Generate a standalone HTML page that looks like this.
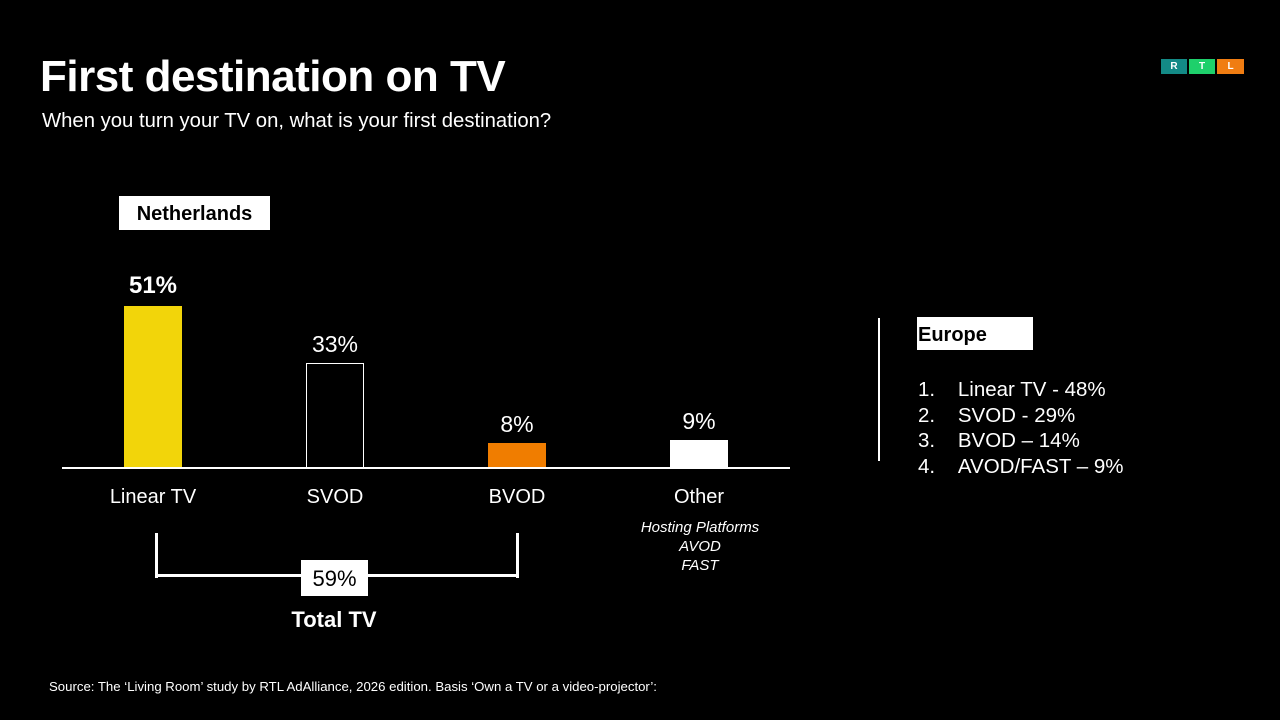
<!DOCTYPE html>
<html><head><meta charset="utf-8"><style>
body{margin:0;width:1280px;height:720px;background:#000;overflow:hidden;position:relative;font-family:"Liberation Sans",sans-serif;color:#fff}
.a{position:absolute;white-space:nowrap}
.c{text-align:center}
</style></head><body>
<div class="a" style="left:40px;top:52px;font-size:44px;font-weight:bold;letter-spacing:-0.5px">First destination on TV</div>
<div class="a" style="left:42px;top:110px;font-size:20.3px">When you turn your TV on, what is your first destination?</div>
<div class="a" style="left:1161px;top:59px;width:26px;height:15px;background:#138a86;color:#fff;font-size:10px;font-weight:bold;text-align:center;line-height:15px">R</div>
<div class="a" style="left:1189px;top:59px;width:26px;height:15px;background:#1ed06b;color:#fff;font-size:10px;font-weight:bold;text-align:center;line-height:15px">T</div>
<div class="a" style="left:1217px;top:59px;width:27px;height:15px;background:#f07d12;color:#fff;font-size:10px;font-weight:bold;text-align:center;line-height:15px">L</div>

<div class="a" style="left:119px;top:196px;width:151px;height:34px;background:#fff;color:#000;font-size:20px;font-weight:bold;text-align:center;line-height:36px">Netherlands</div>

<div class="a" style="left:124px;top:306px;width:58px;height:162px;background:#f2d50a"></div>
<div class="a" style="left:306px;top:363px;width:58px;height:105px;border:1px solid #fff;box-sizing:border-box"></div>
<div class="a" style="left:488px;top:443px;width:58px;height:25px;background:#f07d00"></div>
<div class="a" style="left:670px;top:440px;width:58px;height:28px;background:#fff"></div>
<div class="a" style="left:62px;top:467px;width:728px;height:2px;background:#fff"></div>

<div class="a c" style="left:103px;width:100px;top:272px;font-size:24px;font-weight:bold">51%</div>
<div class="a c" style="left:285px;width:100px;top:331px;font-size:23px">33%</div>
<div class="a c" style="left:467px;width:100px;top:411px;font-size:23px">8%</div>
<div class="a c" style="left:649px;width:100px;top:408px;font-size:23px">9%</div>

<div class="a c" style="left:93px;width:120px;top:486px;font-size:20px">Linear TV</div>
<div class="a c" style="left:275px;width:120px;top:486px;font-size:20px">SVOD</div>
<div class="a c" style="left:457px;width:120px;top:486px;font-size:20px">BVOD</div>
<div class="a c" style="left:639px;width:120px;top:486px;font-size:20px">Other</div>
<div class="a c" style="left:600px;width:200px;top:518px;font-size:15px;font-style:italic;line-height:19px">Hosting Platforms<br>AVOD<br>FAST</div>

<div class="a" style="left:155px;top:533px;width:3px;height:45px;background:#fff"></div>
<div class="a" style="left:516px;top:533px;width:3px;height:45px;background:#fff"></div>
<div class="a" style="left:155px;top:574px;width:364px;height:3px;background:#fff"></div>
<div class="a" style="left:301px;top:560px;width:67px;height:36px;background:#fff;color:#000;font-size:22px;text-align:center;line-height:38px">59%</div>
<div class="a c" style="left:274px;width:120px;top:607px;font-size:22px;font-weight:bold">Total TV</div>

<div class="a" style="left:878px;top:318px;width:2px;height:143px;background:#fff"></div>
<div class="a" style="left:917px;top:317px;width:116px;height:33px;background:#fff;color:#000;font-size:20px;font-weight:bold;line-height:36px;padding-left:1px;box-sizing:border-box">Europe</div>
<div class="a" style="left:918px;top:377px;font-size:20.5px;line-height:25.5px">1.&nbsp;&nbsp;&nbsp;&nbsp;Linear TV - 48%<br>2.&nbsp;&nbsp;&nbsp;&nbsp;SVOD - 29%<br>3.&nbsp;&nbsp;&nbsp;&nbsp;BVOD – 14%<br>4.&nbsp;&nbsp;&nbsp;&nbsp;AVOD/FAST – 9%</div>

<div class="a" style="left:49px;top:679px;font-size:13.2px">Source: The ‘Living Room’ study by RTL AdAlliance, 2026 edition. Basis ‘Own a TV or a video-projector’:</div>
</body></html>
